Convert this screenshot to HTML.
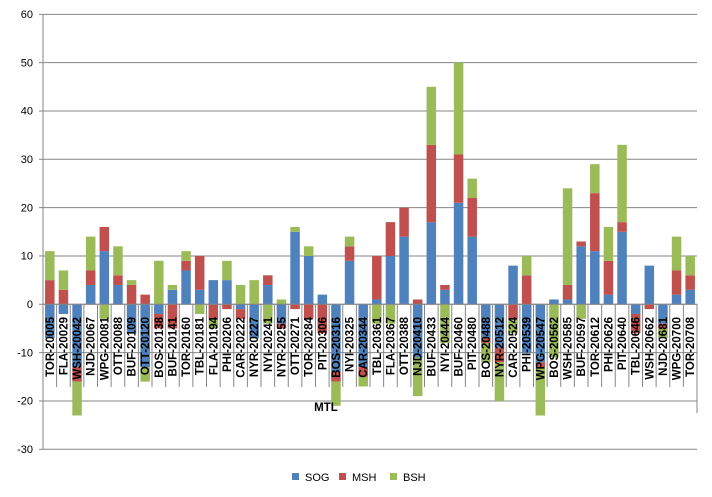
<!DOCTYPE html>
<html><head><meta charset="utf-8"><style>
html,body{margin:0;padding:0;background:#fff;}
svg{display:block;}
.t{font-family:"Liberation Sans",sans-serif;font-size:11px;fill:#000;}
.l{font-family:"Liberation Sans",sans-serif;font-size:11.5px;font-weight:bold;fill:#000;}
</style></head><body>
<svg id="s" width="712" height="497" viewBox="0 0 712 497" xmlns="http://www.w3.org/2000/svg">
<g id="grid"></g>
<g id="bars"></g>
<g id="sep"></g>
<g class="t" text-anchor="end">
<text x="33" y="18">60</text>
<text x="33" y="66.3">50</text>
<text x="33" y="114.6">40</text>
<text x="33" y="163">30</text>
<text x="33" y="211.3">20</text>
<text x="33" y="259.6">10</text>
<text x="33" y="308">0</text>
<text x="33" y="356.3">-10</text>
<text x="33" y="404.6">-20</text>
<text x="33" y="453">-30</text>
</g>
<g id="labs" class="l" text-anchor="end">
<text transform="translate(53.8,317) rotate(-90)">TOR-20005</text>
<text transform="translate(67.4,317) rotate(-90)">FLA-20029</text>
<text transform="translate(81.1,317) rotate(-90)">WSH-20042</text>
<text transform="translate(94.7,317) rotate(-90)">NJD-20067</text>
<text transform="translate(108.3,317) rotate(-90)">WPG-20081</text>
<text transform="translate(121.9,317) rotate(-90)">OTT-20088</text>
<text transform="translate(135.6,317) rotate(-90)">BUF-20109</text>
<text transform="translate(149.2,317) rotate(-90)">OTT-20120</text>
<text transform="translate(162.8,317) rotate(-90)">BOS-20138</text>
<text transform="translate(176.4,317) rotate(-90)">BUF-20141</text>
<text transform="translate(190.1,317) rotate(-90)">TOR-20160</text>
<text transform="translate(203.7,317) rotate(-90)">TBL-20181</text>
<text transform="translate(217.3,317) rotate(-90)">FLA-20194</text>
<text transform="translate(230.9,317) rotate(-90)">PHI-20206</text>
<text transform="translate(244.6,317) rotate(-90)">CAR-20222</text>
<text transform="translate(258.2,317) rotate(-90)">NYR-20227</text>
<text transform="translate(271.8,317) rotate(-90)">NYI-20241</text>
<text transform="translate(285.4,317) rotate(-90)">NYR-20255</text>
<text transform="translate(299.1,317) rotate(-90)">OTT-20271</text>
<text transform="translate(312.7,317) rotate(-90)">TOR-20284</text>
<text transform="translate(326.3,317) rotate(-90)">PIT-20306</text>
<text transform="translate(339.9,317) rotate(-90)">BOS-20316</text>
<text transform="translate(353.6,317) rotate(-90)">NYI-20325</text>
<text transform="translate(367.2,317) rotate(-90)">CAR-20344</text>
<text transform="translate(380.8,317) rotate(-90)">TBL-20361</text>
<text transform="translate(394.4,317) rotate(-90)">FLA-20367</text>
<text transform="translate(408.1,317) rotate(-90)">OTT-20388</text>
<text transform="translate(421.7,317) rotate(-90)">NJD-20410</text>
<text transform="translate(435.3,317) rotate(-90)">BUF-20433</text>
<text transform="translate(448.9,317) rotate(-90)">NYI-20444</text>
<text transform="translate(462.6,317) rotate(-90)">BUF-20460</text>
<text transform="translate(476.2,317) rotate(-90)">PIT-20480</text>
<text transform="translate(489.8,317) rotate(-90)">BOS-20488</text>
<text transform="translate(503.4,317) rotate(-90)">NYR-20512</text>
<text transform="translate(517.1,317) rotate(-90)">CAR-20524</text>
<text transform="translate(530.7,317) rotate(-90)">PHI-20539</text>
<text transform="translate(544.3,317) rotate(-90)">WPG-20547</text>
<text transform="translate(557.9,317) rotate(-90)">BOS-20562</text>
<text transform="translate(571.6,317) rotate(-90)">WSH-20585</text>
<text transform="translate(585.2,317) rotate(-90)">BUF-20597</text>
<text transform="translate(598.8,317) rotate(-90)">TOR-20612</text>
<text transform="translate(612.4,317) rotate(-90)">PHI-20626</text>
<text transform="translate(626.1,317) rotate(-90)">PIT-20640</text>
<text transform="translate(639.7,317) rotate(-90)">TBL-20646</text>
<text transform="translate(653.3,317) rotate(-90)">WSH-20662</text>
<text transform="translate(666.9,317) rotate(-90)">NJD-20681</text>
<text transform="translate(680.6,317) rotate(-90)">WPG-20700</text>
<text transform="translate(694.2,317) rotate(-90)">TOR-20708</text>
</g>
<text class="l" x="326" y="411" text-anchor="middle">MTL</text>
<rect x="292" y="473" width="7" height="7" fill="#4F81BD"/>
<text class="t" x="305" y="481">SOG</text>
<rect x="339" y="473" width="7" height="7" fill="#C0504D"/>
<text class="t" x="352" y="481">MSH</text>
<rect x="390" y="473" width="7" height="7" fill="#9BBB59"/>
<text class="t" x="403" y="481">BSH</text>
</svg>
<script>
(function(){
var NS="http://www.w3.org/2000/svg";
function el(p,n,a){var e=document.createElementNS(NS,n);for(var k in a)e.setAttribute(k,a[k]);p.appendChild(e);return e;}
var Z=304.3,U=4.833,L=43,R=697,W=(R-L)/48;
var g=document.getElementById('grid');
for(var v=60;v>=-30;v-=10){var y=Z-U*v;el(g,'line',{x1:L,x2:R,y1:y,y2:y,stroke:'#868686','stroke-width':1});el(g,'line',{x1:L-4,x2:L,y1:y,y2:y,stroke:'#868686','stroke-width':1});}
el(g,'line',{x1:L,x2:L,y1:Z-U*60,y2:Z+U*30,stroke:'#868686','stroke-width':1});
var d=[[-7,5,6],[-2,3,4],[-13,-3,-7],[4,3,7],[11,5,-3],[4,2,6],[-6,4,1],[-13,2,-3],[-2,-3,9],[3,-5,1],[7,2,2],[3,7,-2],[5,-3,-2],[5,-1,4],[-1,-2,4],[-7,0,5],[4,2,-4],[-4,-1,1],[15,-1,1],[10,-3,2],[2,-6,0],[-14,-2,-5],[9,3,2],[-13,-2,-2],[1,9,-4],[10,7,-4],[14,6,0],[-11,1,-8],[17,16,12],[3,1,-8],[21,10,19],[14,8,4],[-7,-1,-4],[-9,-3,-8],[8,-3,-3],[-10,6,4],[-12,-1,-10],[1,0,-11],[1,3,20],[12,1,-3],[11,12,6],[2,7,7],[15,2,16],[-2,-4,0],[8,-1,0],[-4,-1,-2],[2,5,7],[3,3,4]];
var col=['#4F81BD','#C0504D','#9BBB59'];
var b=document.getElementById('bars');
d.forEach(function(r,i){var cx=L+W*(i+0.5),p=0,n=0;
 r.forEach(function(v,j){if(!v)return;var y0,y1;
  if(v>0){y0=Z-U*(p+v);y1=Z-U*p;p+=v;}else{y0=Z-U*n;y1=Z-U*(n+v);n+=v;}
  el(b,'rect',{x:cx-4.75,y:y0,width:9.5,height:y1-y0,fill:col[j]});});});
var s=document.getElementById('sep');
for(var k=0;k<=48;k++){var x=L+W*k;el(s,'line',{x1:x,x2:x,y1:Z,y2:(k==0||k==48)?413:387,stroke:'#868686','stroke-width':1});}
el(s,'line',{x1:L,x2:R,y1:Z,y2:Z,stroke:'#868686','stroke-width':1});
})();
</script>
</body></html>
